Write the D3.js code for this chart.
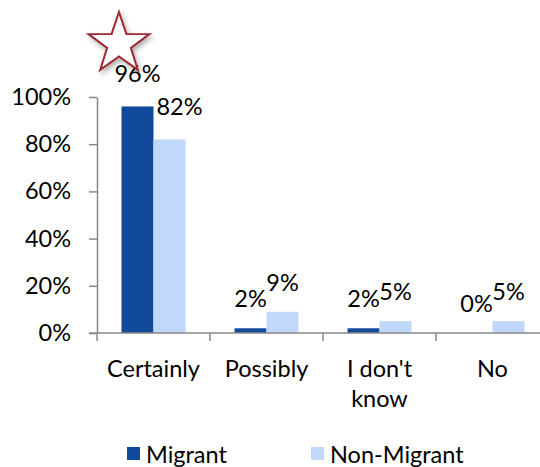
<!DOCTYPE html>
<html><head><meta charset="utf-8">
<script src="https://cdn.jsdelivr.net/npm/d3@7"></script>
<style>html,body{margin:0;padding:0;background:#fff;}svg{display:block;font-family:Lato,"Open Sans",sans-serif;}</style>
</head><body>
<svg id="c" width="540" height="467"></svg>
<script>
(function(){
const categories = ["Certainly", "Possibly", "I don't\nknow", "No"];
const seriesNames = ["Migrant", "Non-Migrant"];
const migrant = [96, 2, 2, 0];
const nonMigrant = [82, 9, 5, 5];
const yTicks = [0, 20, 40, 60, 80, 100];
const colors = ["#114a9b", "#bfd8fc"];

const svg = d3.select("#c");
const mLeft = 97, mRight = 549, mTop = 97, mBottom = 333;
const fs = 23.5;

const x = d3.scaleBand().domain(categories).range([mLeft, mRight]).paddingInner(0).paddingOuter(0);
const x1 = d3.scaleBand().domain(seriesNames).range([0, x.bandwidth()]).paddingInner(0).paddingOuter(0.766);
const y = d3.scaleLinear().domain([0, 100]).range([mBottom, mTop]);

const data = categories.map((c, i) => ({cat: c, vals: [migrant[i], nonMigrant[i]]}));

const g = svg.append("g");
data.forEach(d => {
  d.vals.forEach((v, j) => {
    g.append("rect")
      .attr("x", x(d.cat) + x1(seriesNames[j]))
      .attr("width", x1.bandwidth())
      .attr("y", y(v))
      .attr("height", y(0) - y(v))
      .attr("fill", colors[j]);
  });
});

const yAxis = svg.append("g").attr("transform", `translate(${mLeft},0)`)
  .call(d3.axisLeft(y).tickValues(yTicks).tickFormat(d => d + "%").tickSize(8).tickSizeOuter(0).tickPadding(18));
yAxis.select(".domain").attr("stroke", "#888").attr("stroke-width", 1.5);
yAxis.selectAll(".tick line").attr("stroke", "#888").attr("stroke-width", 1.5);
yAxis.selectAll(".tick text").attr("font-size", fs).attr("fill", "#000").attr("font-family", "Lato");

svg.append("line").attr("x1", mLeft - 8).attr("x2", mRight).attr("y1", mBottom).attr("y2", mBottom)
  .attr("stroke", "#888").attr("stroke-width", 1.5);
categories.forEach(c => {
  svg.append("line").attr("x1", x(c)).attr("x2", x(c)).attr("y1", mBottom).attr("y2", mBottom + 8)
    .attr("stroke", "#888").attr("stroke-width", 1.5);
});
categories.forEach(c => {
  const t = svg.append("text").attr("x", x(c) + x.bandwidth() / 2).attr("y", 377)
    .attr("text-anchor", "middle").attr("font-size", fs).attr("fill", "#000");
  c.split("\n").forEach((line, k) => {
    t.append("tspan").attr("x", x(c) + x.bandwidth() / 2).attr("dy", k === 0 ? 0 : 30).text(line);
  });
});

data.forEach(d => {
  d.vals.forEach((v, j) => {
    svg.append("text")
      .attr("x", x(d.cat) + x1(seriesNames[j]) + x1.bandwidth() / 2 + (d.cat === "Certainly" && j === 1 ? 10 : 0))
      .attr("y", y(v) - (d.cat === "Certainly" ? 24 : 21))
      .attr("text-anchor", "middle").attr("font-size", fs).attr("fill", "#000")
      .text(v + "%");
  });
});

const starPts = [];
const cx = 119, cy = 44, R = 32, r = 12.5;
for (let k = 0; k < 10; k++) {
  const a = -Math.PI / 2 + k * Math.PI / 5;
  const rr = k % 2 === 0 ? R : r;
  starPts.push([cx + rr * Math.cos(a), cy + rr * Math.sin(a)]);
}
const defs = svg.append("defs");
const f = defs.append("filter").attr("id", "sh").attr("x", "-50%").attr("y", "-50%").attr("width", "200%").attr("height", "200%");
f.append("feDropShadow").attr("dx", 2).attr("dy", 3).attr("stdDeviation", 2.5).attr("flood-color", "#000").attr("flood-opacity", 0.3);
svg.append("polygon").attr("points", starPts.map(p => p.join(",")).join(" "))
  .attr("fill", "#fff").attr("stroke", "#9b2a30").attr("stroke-width", 2).attr("filter", "url(#sh)");

const legX = [127, 311];
seriesNames.forEach((s, j) => {
  svg.append("rect").attr("x", legX[j]).attr("y", 447).attr("width", 13).attr("height", 13).attr("fill", colors[j]);
  svg.append("text").attr("x", legX[j] + 19).attr("y", 463).attr("font-size", fs).attr("fill", "#000").text(s);
});
})();
</script>
</body></html>
